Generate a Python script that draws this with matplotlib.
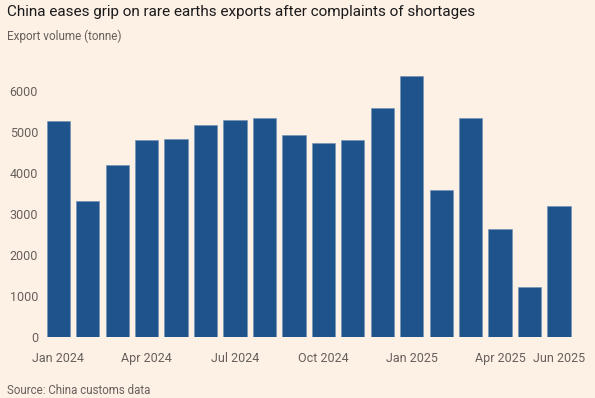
import matplotlib
matplotlib.use("Agg")
import matplotlib.pyplot as plt

months = ["Jan 2024", "Feb 2024", "Mar 2024", "Apr 2024", "May 2024", "Jun 2024",
          "Jul 2024", "Aug 2024", "Sep 2024", "Oct 2024", "Nov 2024", "Dec 2024",
          "Jan 2025", "Feb 2025", "Mar 2025", "Apr 2025", "May 2025", "Jun 2025"]
volume = [5268, 3324, 4195, 4797, 4820, 5163, 5285, 5333, 4919,
          4740, 4805, 5585, 6374, 3585, 5333, 2626, 1228, 3195]
tick_labels = ["Jan 2024", "Apr 2024", "Jul 2024", "Oct 2024", "Jan 2025", "Apr 2025", "Jun 2025"]
y_ticks = [0, 1000, 2000, 3000, 4000, 5000, 6000]

BG = "#fdf0e5"
BAR = "#1f538b"
GREY = "#66605c"

plt.rcParams['font.family'] = ['Roboto', 'DejaVu Sans']

fig = plt.figure(figsize=(5.95, 3.98), dpi=100, facecolor=BG)
ax = fig.add_axes([43.6/595, 61/398, (573.7-43.6)/595, (337-70.5)/398])
ax.set_facecolor(BG)

x = list(range(len(months)))
ax.bar(x, volume, width=0.79, color=BAR, edgecolor="#6f8fb5", linewidth=0.4)
ax.set_xlim(-0.5, len(months) - 0.5)
ax.set_ylim(0, 6500)

ax.set_yticks(y_ticks)
ax.set_yticklabels([str(v) for v in y_ticks])
ax.set_xticks([months.index(t) for t in tick_labels])
ax.set_xticklabels(tick_labels)
ax.tick_params(axis='both', length=0, colors=GREY, labelsize=9)
ax.tick_params(axis='y', pad=4)
ax.tick_params(axis='x', pad=11)
for s in ax.spines.values():
    s.set_visible(False)

fig.text(7/595, 1 - 12/398, "China eases grip on rare earths exports after complaints of shortages",
         fontsize=10.95, color="#1a1a1a", va='center', ha='left')
fig.text(7/595, 1 - 36/398, "Export volume (tonne)", fontsize=8.5, color=GREY, va='center', ha='left')
fig.text(7/595, 1 - 390/398, "Source: China customs data", fontsize=8.3, color=GREY, va='center', ha='left')

fig.savefig("out.png", dpi=100, facecolor=BG)
